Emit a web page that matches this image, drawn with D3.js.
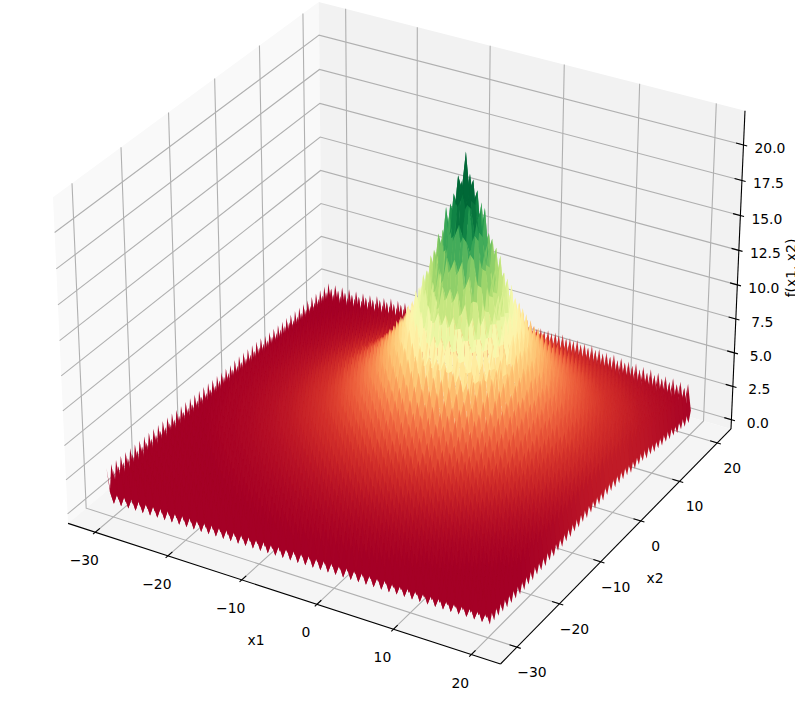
<!DOCTYPE html>
<html>
<head>
<meta charset="utf-8">
<script src="https://cdn.jsdelivr.net/npm/d3@7"></script>
<style>
  html, body { margin: 0; padding: 0; background: #fff; }
  svg { display: block; }
  text { font-family: "DejaVu Sans", sans-serif; font-size: 13.9px; fill: #000; }
</style>
</head>
<body>
<div id="chart"></div>
<script>
const x1Ticks = [-30, -20, -10, 0, 10, 20];
const x2Ticks = [-30, -20, -10, 0, 10, 20];
const zTicks = [0, 2.5, 5, 7.5, 10, 12.5, 15, 17.5, 20];
const zTickLabels = ["0.0", "2.5", "5.0", "7.5", "10.0", "12.5", "15.0", "17.5", "20.0"];
const x1Lim = [-33.8, 23.7];
const x2Lim = [-33.8, 23.7];
const zLim = [-0.7, 22.4];

// The surface is not read cell by cell: its heights are looked up from the two
// tables below, which are estimates.
// Height under the spikes, per half unit of distance from the peak.
const ringHeights = [
    19.0, 18.2, 17.2, 16.2, 15.1, 14.0, 13.1, 12.2, 11.4, 10.6,
    9.9, 9.2, 8.6, 8.0, 7.4, 6.9, 6.4, 6.0, 5.6, 5.2,
    4.9, 4.5, 4.2, 3.9, 3.7, 3.4, 3.2, 3.0, 2.8, 2.6,
    2.4, 2.2, 2.1, 1.9, 1.8, 1.7, 1.6, 1.5, 1.4, 1.3,
    1.2, 1.1, 1.0, 1.0, 0.9, 0.8, 0.8, 0.7, 0.7, 0.6,
    0.6, 0.5, 0.5, 0.5, 0.4, 0.4, 0.4, 0.4, 0.3, 0.3, 0.3, 0.2
];
// Spike height added on top, by whole/half position of x1 (row) and x2 (column).
const spikeHeights = [[3.0, 1.1], [1.1, 0.3]];
const x1Range = [-30, 20.5];
const x2Range = [-31, 19];
const gridStep = 0.5;
const colorDomain = [1.6, 18.5];

const width = 795;
const height = 705;

// Same camera as a default mplot3d view: elev 30, azim -60, dist 10.
const boxSize = [1.1428, 1.1428, 0.8571];
const elev = 30 * Math.PI / 180;
const azim = -60 * Math.PI / 180;
const viewDist = 10;

const toBoxX = d3.scaleLinear().domain(x1Lim).range([0, boxSize[0]]);
const toBoxY = d3.scaleLinear().domain(x2Lim).range([0, boxSize[1]]);
const toBoxZ = d3.scaleLinear().domain(zLim).range([0, boxSize[2]]);

const center = boxSize.map(d => d / 2);
const w = [Math.cos(elev) * Math.cos(azim), Math.cos(elev) * Math.sin(azim), Math.sin(elev)];
const eye = center.map((d, i) => d + viewDist * w[i]);
const uLen = Math.hypot(w[0], w[1]);
const u = [-w[1] / uLen, w[0] / uLen, 0];
const v = [w[1] * u[2] - w[2] * u[1], w[2] * u[0] - w[0] * u[2], w[0] * u[1] - w[1] * u[0]];
const dot = (a, b) => a[0] * b[0] + a[1] * b[1] + a[2] * b[2];

function camera(x, y, z) {
    const p = [toBoxX(x) - eye[0], toBoxY(y) - eye[1], toBoxZ(z) - eye[2]];
    const depth = -dot(p, w);
    return [dot(p, u) / depth, dot(p, v) / depth, depth];
}

// Screen scales pinned on the corners of the box.
const px = d3.scaleLinear()
    .domain([camera(x1Lim[0], x2Lim[0], zLim[1])[0], camera(x1Lim[1], x2Lim[1], zLim[1])[0]])
    .range([53, 745]);
const py = d3.scaleLinear()
    .domain([camera(x1Lim[0], x2Lim[1], zLim[1])[1], camera(x1Lim[1], x2Lim[0], zLim[0])[1]])
    .range([2, 664]);

function project(x, y, z) {
    const c = camera(x, y, z);
    return [px(c[0]), py(c[1])];
}

const svg = d3.select("#chart").append("svg")
    .attr("width", width)
    .attr("height", height)
    .attr("viewBox", "0 0 " + width + " " + height);

const line = d3.line();
const closed = pts => line(pts) + "Z";

const [xa, xb] = x1Lim;
const [ya, yb] = x2Lim;
const [za, zb] = zLim;

// Panes
const panes = [
    { color: "#f9f9f9", pts: [[xa, ya, za], [xa, yb, za], [xa, yb, zb], [xa, ya, zb]] },
    { color: "#f2f2f2", pts: [[xa, yb, za], [xb, yb, za], [xb, yb, zb], [xa, yb, zb]] },
    { color: "#f5f5f5", pts: [[xa, ya, za], [xb, ya, za], [xb, yb, za], [xa, yb, za]] }
];
svg.append("g").selectAll("path")
    .data(panes)
    .join("path")
    .attr("d", d => closed(d.pts.map(p => project(...p))))
    .attr("fill", d => d.color);

// Grid lines
const gridLines = [
    ...x1Ticks.map(t => [[t, ya, za], [t, yb, za], [t, yb, zb]]),
    ...x2Ticks.map(t => [[xb, t, za], [xa, t, za], [xa, t, zb]]),
    ...zTicks.map(t => [[xa, ya, t], [xa, yb, t], [xb, yb, t]])
];
svg.append("g").selectAll("path")
    .data(gridLines)
    .join("path")
    .attr("d", d => line(d.map(p => project(...p))))
    .attr("fill", "none")
    .attr("stroke", "#b0b0b0")
    .attr("stroke-width", 1.1);

// Axis lines
const axisLines = [
    [[xa, ya, za], [xb, ya, za]],
    [[xb, ya, za], [xb, yb, za]],
    [[xb, yb, za], [xb, yb, zb]]
];
svg.append("g").selectAll("path")
    .data(axisLines)
    .join("path")
    .attr("d", d => line(d.map(p => project(...p))))
    .attr("fill", "none")
    .attr("stroke", "#000")
    .attr("stroke-width", 1.1);

// Tick marks run along the grid direction, across the axis line.
const dx = (xb - xa) / 12;
const dy = (yb - ya) / 12;
const tickLines = [
    ...x1Ticks.map(t => [[t, ya - 0.1 * dy, za], [t, ya + 0.2 * dy, za]]),
    ...x2Ticks.map(t => [[xb + 0.1 * dx, t, za], [xb - 0.2 * dx, t, za]]),
    ...zTicks.map(t => [[xb + 0.1 * dx, yb, t], [xb - 0.2 * dx, yb, t]])
];
svg.append("g").selectAll("path")
    .data(tickLines)
    .join("path")
    .attr("d", d => line(d.map(p => project(...p))))
    .attr("fill", "none")
    .attr("stroke", "#000")
    .attr("stroke-width", 1.1);

// Surface
const x1Grid = d3.range(x1Range[0], x1Range[1] + gridStep / 2, gridStep);
const x2Grid = d3.range(x2Range[0], x2Range[1] + gridStep / 2, gridStep);
const phase = v => Math.abs(Math.round(v / gridStep)) % 2;
const heights = x1Grid.map(a => x2Grid.map(b => {
    const ring = Math.round(Math.hypot(a, b) / gridStep);
    return ringHeights[Math.min(ring, ringHeights.length - 1)] + spikeHeights[phase(a)][phase(b)];
}));
const cells = [];
for (let i = 0; i < x1Grid.length - 1; i++) {
    for (let j = 0; j < x2Grid.length - 1; j++) {
        const corners = [[i, j], [i + 1, j], [i + 1, j + 1], [i, j + 1]]
            .map(([a, b]) => [x1Grid[a], x2Grid[b], heights[a][b]]);
        cells.push({
            pts: corners.map(p => project(...p)),
            z: d3.mean(corners, p => p[2]),
            depth: d3.mean(corners, p => camera(...p)[2])
        });
    }
}
cells.sort((a, b) => b.depth - a.depth);
const surfaceColor = d3.scaleSequential(d3.interpolateRdYlGn).domain(colorDomain).clamp(true);

svg.append("g").selectAll("path")
    .data(cells)
    .join("path")
    .attr("d", d => closed(d.pts))
    .attr("fill", d => surfaceColor(d.z));

// Tick labels
const minus = s => String(s).replace("-", "\u2212");
const labels = [
    ...x1Ticks.map(t => ({ text: minus(t), at: project(t, ya, za), off: [-11, 28] })),
    ...x2Ticks.map(t => ({ text: minus(t), at: project(xb, t, za), off: [15, 25] })),
    ...zTicks.map((t, i) => ({ text: zTickLabels[i], at: project(xb, yb, t), off: [26.5, 3] }))
];
svg.append("g").selectAll("text")
    .data(labels)
    .join("text")
    .attr("x", d => d.at[0] + d.off[0])
    .attr("y", d => d.at[1] + d.off[1])
    .attr("text-anchor", "middle")
    .attr("dominant-baseline", "central")
    .text(d => d.text);

// Axis titles
svg.append("text")
    .attr("x", 256).attr("y", 640)
    .attr("text-anchor", "middle").attr("dominant-baseline", "central")
    .text("x1");
svg.append("text")
    .attr("x", 655).attr("y", 578)
    .attr("text-anchor", "middle").attr("dominant-baseline", "central")
    .text("x2");
svg.append("text")
    .attr("transform", "translate(791,268) rotate(-90)")
    .attr("text-anchor", "middle").attr("dominant-baseline", "central")
    .text("f(x1, x2)");
</script>
</body>
</html>
